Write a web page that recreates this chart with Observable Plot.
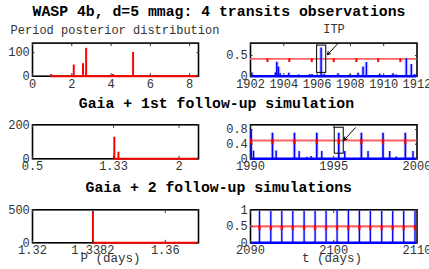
<!DOCTYPE html>
<html><head><meta charset="utf-8">
<script src="https://cdn.jsdelivr.net/npm/d3@7"></script>
<script src="https://cdn.jsdelivr.net/npm/@observablehq/plot@0.6"></script>
<style>
html,body{margin:0;padding:0;background:#fff;}
#chart{position:relative;width:429px;height:269px;overflow:hidden;background:#fff;}
#chart svg{position:absolute;}
</style></head><body><div id="chart"></div>
<script>
// ---------- texts ----------
const mainTitle = "WASP 4b, d=5 mmag: 4 transits observations";
const rowTitles = ["Gaia + 1st follow-up simulation", "Gaia + 2 follow-up simulations"];
const panelTitles = ["Period posterior distribution", "ITP"];
const axisLabels = ["P (days)", "t (days)"];

// ---------- row 1, left: period posterior histogram ----------
const p1Period = [0.95, 2.1, 2.57, 2.73, 4.1, 4.2, 5.12, 8.0];
const p1Count  = [7, 47, 53, 118, 7, 3, 100, 3];
const p1Span   = [0.95, 8.45];
const p1XDomain = [0, 8.45];
const p1YDomain = [0, 140];
const p1XTicks = [0, 2, 4, 6, 8];
const p1YTicks = [0, 100];

// ---------- row 1, right: ITP ----------
const p2PeakT = [1902.08, 1903.5, 1903.58, 1903.68, 1903.78, 1904.3, 1904.9, 1905.55, 1905.7, 1906.24, 1906.42, 1907.26, 1907.96, 1908.46, 1908.76, 1908.96, 1909.76, 1910.56, 1910.76, 1911.36, 1911.66, 1911.86];
const p2PeakH = [0.08, 0.08, 0.34, 0.22, 0.06, 0.07, 0.03, 0.04, 0.04, 0.68, 0.05, 0.06, 0.03, 0.07, 0.22, 0.33, 0.05, 0.06, 0.03, 0.42, 0.28, 0.04];
const p2PredT = [1903.02, 1904.33, 1905.68, 1907.0, 1908.36, 1909.67, 1911.0];
const p2Level = 0.42, p2Notch = 0.33;
const p2Box = {x1: 1906.0, x2: 1906.55, y1: 0.08, y2: 0.74};
const p2Arrow = {x1: 1907.2, y1: 0.77, x2: 1906.62, y2: 0.52};
const p2XDomain = [1902, 1912];
const p2YDomain = [0, 0.8];
const p2XTicks = [1902, 1904, 1906, 1908, 1910, 1912];
const p2YTicks = [0, 0.5];

// ---------- row 2, left ----------
const p3Period = [1.338, 1.38];
const p3Count  = [127, 39];
const p3Span   = [1.338, 2.2];
const p3XDomain = [0.5, 2.2];
const p3YDomain = [0, 200];
const p3XTicks = [0.5, 1.33, 2];
const p3YTicks = [0, 200];

// ---------- row 2, right ----------
const p4SpikeT = [1990.04, 1991.32, 1992.64, 1993.98, 1995.3, 1996.66, 1997.96, 1999.3];
const p4SpikeH = [0.8, 0.7, 0.7, 0.7, 0.7, 0.7, 0.7, 0.7];
const p4MinorT = [1990.18, 1991.54, 1992.92, 1993.38, 1993.64, 1994.28, 1995.66, 1997.06, 1998.36, 1998.76, 1999.76];
const p4MinorH = [0.21, 0.21, 0.2, 0.04, 0.06, 0.2, 0.2, 0.2, 0.2, 0.05, 0.2];
const p4Level = 0.5, p4MarkLo = 0.38, p4MarkHi = 0.54;
const p4Box = {x1: 1995.06, x2: 1995.6, y1: 0.14, y2: 0.85};
const p4Arrow = {x1: 1996.3, y1: 0.85, x2: 1995.62, y2: 0.51};
const p4XDomain = [1990, 2000];
const p4YDomain = [0, 0.93];
const p4XTicks = [1990, 1995, 2000];
const p4YTicks = [0, 0.4, 0.8];

// ---------- row 3, left ----------
const p5Period = [1.3382];
const p5Count  = [470];
const p5Span   = [1.3382, 1.37];
const p5XDomain = [1.32, 1.37];
const p5YDomain = [0, 500];
const p5XTicks = [1.32, 1.3382, 1.36];
const p5YTicks = [0, 500];

// ---------- row 3, right ----------
const p6SpikeT = [2091.08, 2092.44, 2093.76, 2095.08, 2096.44, 2097.76, 2099.08, 2100.4, 2101.76, 2103.08, 2104.4, 2105.76, 2107.08, 2108.4, 2109.76];
const p6SpikeH = [0.95, 0.95, 0.95, 0.95, 0.95, 0.95, 0.95, 1.0, 0.99, 0.97, 0.95, 0.95, 0.95, 0.95, 0.95];
const p6Level = 0.5, p6MarkLo = 0.37, p6MarkHi = 0.52;
const p6XDomain = [2090, 2110];
const p6YDomain = [0, 1];
const p6XTicks = [2090, 2100, 2110];
const p6YTicks = [0, 0.5, 1];

// ---------- styling ----------
const MONO = '"Courier New", "Liberation Mono", "DejaVu Sans Mono", monospace';
const RED = "#ff0000", PINK = "#ff6464", BLUE = "#0000ff", HALO = "#8080ff";
const chart = document.getElementById("chart");

const zip = (a, b) => a.map((v, i) => ({x: v, y: b[i]}));

function panel({left, top, width, height, mL, mR, mT, mB, xDomain, yDomain, xTicks, yTicks, marks}) {
  const svg = Plot.plot({
    width, height, marginLeft: mL, marginRight: mR, marginTop: mT, marginBottom: mB,
    x: {domain: xDomain}, y: {domain: yDomain},
    style: {fontFamily: MONO, fontSize: "12px", color: "#333", background: "transparent", overflow: "visible"},
    marks: [
      Plot.frame({stroke: "#000", strokeWidth: 1.6}),
      ...marks,
      Plot.axisX(xTicks, {anchor: "bottom", tickSize: -2.5, tickPadding: 5.3, tickFormat: d => String(d), label: null, fontSize: 12}),
      Plot.axisX(xTicks, {anchor: "top", tickSize: -2.5, fill: "none", label: null}),
      Plot.axisY(yTicks, {anchor: "left", tickSize: -2.5, tickPadding: 5.2, tickFormat: d => String(d), label: null, fontSize: 12}),
      Plot.axisY(yTicks, {anchor: "right", tickSize: -2.5, fill: "none", label: null})
    ]
  });
  svg.style.left = left + "px";
  svg.style.top = top + "px";
  chart.appendChild(svg);
}

function histMarks(period, count, span) {
  return [
    Plot.ruleY([{y: 0, a: span[0], b: span[1]}], {y: "y", x1: "a", x2: "b", stroke: RED, strokeWidth: 2}),
    Plot.ruleX(zip(period, count), {x: "x", y1: 0, y2: "y", stroke: RED, strokeWidth: 2})
  ];
}
function spikeMarks(data, w, halo) {
  return [
    Plot.ruleX(data, {x: "x", y1: 0, y2: "y", stroke: HALO, strokeOpacity: 0.35, strokeWidth: halo}),
    Plot.ruleX(data, {x: "x", y1: 0, y2: "y", stroke: BLUE, strokeWidth: w})
  ];
}

const L = {left: 0, width: 215, mL: 32, mR: 17};
const R = {left: 215, width: 214, mL: 35, mR: 12.5};
const R1 = {top: 32, height: 70, mT: 10.6, mB: 26.3};
const R2 = {top: 114, height: 70, mT: 10.3, mB: 25.7};
const R3 = {top: 199, height: 70, mT: 10.3, mB: 26.7};

// Row 1
panel({...L, ...R1, xDomain: p1XDomain, yDomain: p1YDomain, xTicks: p1XTicks, yTicks: p1YTicks,
  marks: histMarks(p1Period, p1Count, p1Span)});
panel({...R, ...R1, xDomain: p2XDomain, yDomain: p2YDomain, xTicks: p2XTicks, yTicks: p2YTicks,
  marks: [
    Plot.ruleY([p2Level], {stroke: PINK, strokeWidth: 1.8}),
    Plot.ruleX(p2PredT, {x: d => d, y1: p2Notch, y2: p2Level, stroke: RED, strokeWidth: 2}),
    ...spikeMarks(zip(p2PeakT, p2PeakH), 1.5, 4),
    Plot.ruleY([0], {stroke: BLUE, strokeWidth: 2.6}),
    Plot.rect([p2Box], {x1: "x1", x2: "x2", y1: "y1", y2: "y2", fill: "none", stroke: "#000", strokeWidth: 1}),
    Plot.arrow([p2Arrow], {x1: "x1", y1: "y1", x2: "x2", y2: "y2", stroke: "#000", strokeWidth: 1, headLength: 5})
  ]});

// Row 2
panel({...L, ...R2, xDomain: p3XDomain, yDomain: p3YDomain, xTicks: p3XTicks, yTicks: p3YTicks,
  marks: histMarks(p3Period, p3Count, p3Span)});
panel({...R, ...R2, xDomain: p4XDomain, yDomain: p4YDomain, xTicks: p4XTicks, yTicks: p4YTicks,
  marks: [
    Plot.ruleY([p4Level], {stroke: PINK, strokeWidth: 2.2}),
    ...spikeMarks(zip(p4MinorT, p4MinorH), 1.4, 3),
    ...spikeMarks(zip(p4SpikeT, p4SpikeH), 1.6, 3.5),
    Plot.ruleX(p4SpikeT, {x: d => d, y1: p4MarkLo, y2: p4MarkHi, stroke: RED, strokeWidth: 2.4, strokeOpacity: 0.85}),
    Plot.ruleY([0], {stroke: BLUE, strokeWidth: 2.6}),
    Plot.rect([p4Box], {x1: "x1", x2: "x2", y1: "y1", y2: "y2", fill: "none", stroke: "#000", strokeWidth: 1}),
    Plot.arrow([p4Arrow], {x1: "x1", y1: "y1", x2: "x2", y2: "y2", stroke: "#000", strokeWidth: 1, headLength: 5})
  ]});

// Row 3
panel({...L, ...R3, xDomain: p5XDomain, yDomain: p5YDomain, xTicks: p5XTicks, yTicks: p5YTicks,
  marks: histMarks(p5Period, p5Count, p5Span)});
panel({...R, ...R3, xDomain: p6XDomain, yDomain: p6YDomain, xTicks: p6XTicks, yTicks: p6YTicks,
  marks: [
    Plot.ruleY([p6Level], {stroke: PINK, strokeWidth: 2.2}),
    ...spikeMarks(zip(p6SpikeT, p6SpikeH), 1.3, 2.8),
    Plot.ruleX(p6SpikeT, {x: d => d, y1: p6MarkLo, y2: p6MarkHi, stroke: RED, strokeWidth: 2.4, strokeOpacity: 0.85}),
    Plot.ruleY([0], {stroke: BLUE, strokeWidth: 2.6})
  ]});

// ---------- text overlay ----------
const ov = d3.select(chart).append("svg")
  .attr("width", 429).attr("height", 269)
  .style("left", "0px").style("top", "0px").style("pointer-events", "none")
  .style("font-family", MONO);
const labels = [
  {t: mainTitle, x: 219, y: 15.6, size: 14.8, weight: "bold"},
  {t: panelTitles[0], x: 115, y: 34, size: 12, weight: "normal"},
  {t: panelTitles[1], x: 334, y: 33, size: 12, weight: "normal"},
  {t: rowTitles[0], x: 216.5, y: 108.3, size: 14.8, weight: "bold"},
  {t: rowTitles[1], x: 218.7, y: 192.3, size: 14.8, weight: "bold"},
  {t: axisLabels[0], x: 110.5, y: 261.5, size: 12.5, weight: "normal"},
  {t: axisLabels[1], x: 332, y: 261.5, size: 12.5, weight: "normal"}
];
ov.selectAll("text").data(labels).join("text")
  .attr("x", d => d.x).attr("y", d => d.y)
  .attr("text-anchor", "middle")
  .attr("font-size", d => d.size)
  .attr("font-weight", d => d.weight)
  .attr("fill", d => d.weight === "bold" ? "#000" : "#333")
  .style("white-space", "pre")
  .text(d => d.t);
</script></body></html>
